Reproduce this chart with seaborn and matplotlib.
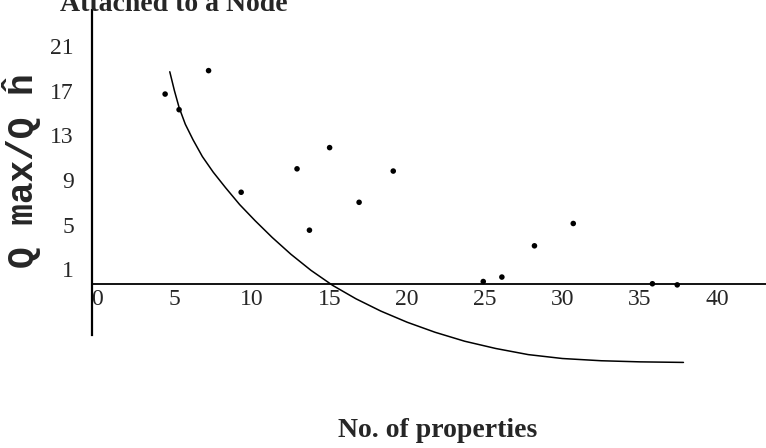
import pandas as pd
import seaborn as sns
import matplotlib
matplotlib.use("Agg")
import matplotlib.pyplot as plt

# Werte
prop_x = [4.4, 5.3, 7.2, 9.3, 12.9, 15.0, 13.7, 16.9, 19.1, 24.9, 26.1, 28.2, 30.7, 35.8, 37.4]
ratio_y = [16.7, 15.3, 18.8, 7.9, 10.0, 11.9, 4.5, 7.0, 9.8, -0.1, 0.3, 3.1, 5.1, -0.3, -0.4]

fit_x = [4.7, 5.0, 5.3, 5.7, 6.2, 6.8, 7.5, 8.3, 9.2, 10.2, 11.3, 12.5, 13.8, 15.2,
         16.7, 18.3, 20.0, 21.8, 23.7, 25.7, 27.8, 30.0, 32.5, 35.0, 37.8]
fit_y = [18.7, 17.0, 15.5, 14.0, 12.6, 11.1, 9.7, 8.3, 6.8, 5.35, 3.85, 2.35, 0.9, -0.45,
         -1.65, -2.75, -3.75, -4.65, -5.45, -6.1, -6.65, -7.0, -7.2, -7.3, -7.35]

x_ticks = [0, 5, 10, 15, 20, 25, 30, 35, 40]
y_ticks = [1, 5, 9, 13, 17, 21]

title = "Attached to a Node"
x_label = "No. of properties"
y_label = "Q max/Q ĥ"

points = pd.DataFrame({"props": prop_x, "ratio": ratio_y})
curve = pd.DataFrame({"props": fit_x, "ratio": fit_y})

sns.set_style("white")
plt.rcParams["font.family"] = ["Liberation Serif", "DejaVu Serif"]

fig = plt.figure(figsize=(7.66, 4.48), dpi=100)
ax = fig.add_axes([0, 0, 1, 1])
ax.patch.set_alpha(0)

sns.lineplot(data=curve, x="props", y="ratio", color="black", linewidth=1.1,
             estimator=None, sort=False, ax=ax)
sns.scatterplot(data=points, x="props", y="ratio", color="black", s=16,
                edgecolor="none", ax=ax)

ax.set_xlim(-6.24, 43.12)
ax.set_ylim(-15.02, 25.13)

# Achsen wie in der Vorlage: Kreuz bei (0, 0)
ax.spines["left"].set_position(("data", -0.31))
ax.spines["bottom"].set_position(("data", -0.3))
ax.spines["left"].set_bounds(-4.9, 24.2)
ax.spines["bottom"].set_bounds(-0.31, 43.12)
ax.spines["left"].set_linewidth(1.6)
ax.spines["bottom"].set_linewidth(1.3)
for s in ["top", "right"]:
    ax.spines[s].set_visible(False)
for s in ["left", "bottom"]:
    ax.spines[s].set_color("black")

ax.set_xticks(x_ticks)
ax.set_xticklabels([str(t) for t in x_ticks])
ax.set_yticks(y_ticks)
ax.set_yticklabels([str(t) for t in y_ticks])
ax.tick_params(axis="x", length=0, pad=4, labelsize=17)
ax.tick_params(axis="y", length=0, pad=13, labelsize=17)
ax.set_xlabel("")
ax.set_ylabel("")

fig.text(22 / 766, 1 - 171 / 448, y_label, rotation=90, ha="center", va="center",
         fontsize=26, fontweight="bold", family=["Liberation Mono", "DejaVu Sans Mono"])
fig.text(438 / 766, 1 - 437 / 448, x_label, ha="center", va="baseline",
         fontsize=20, fontweight="bold")
fig.text(60 / 766, 1 - 11 / 448, title, ha="left", va="baseline",
         fontsize=20, fontweight="bold")

fig.savefig("out.png", dpi=100)
